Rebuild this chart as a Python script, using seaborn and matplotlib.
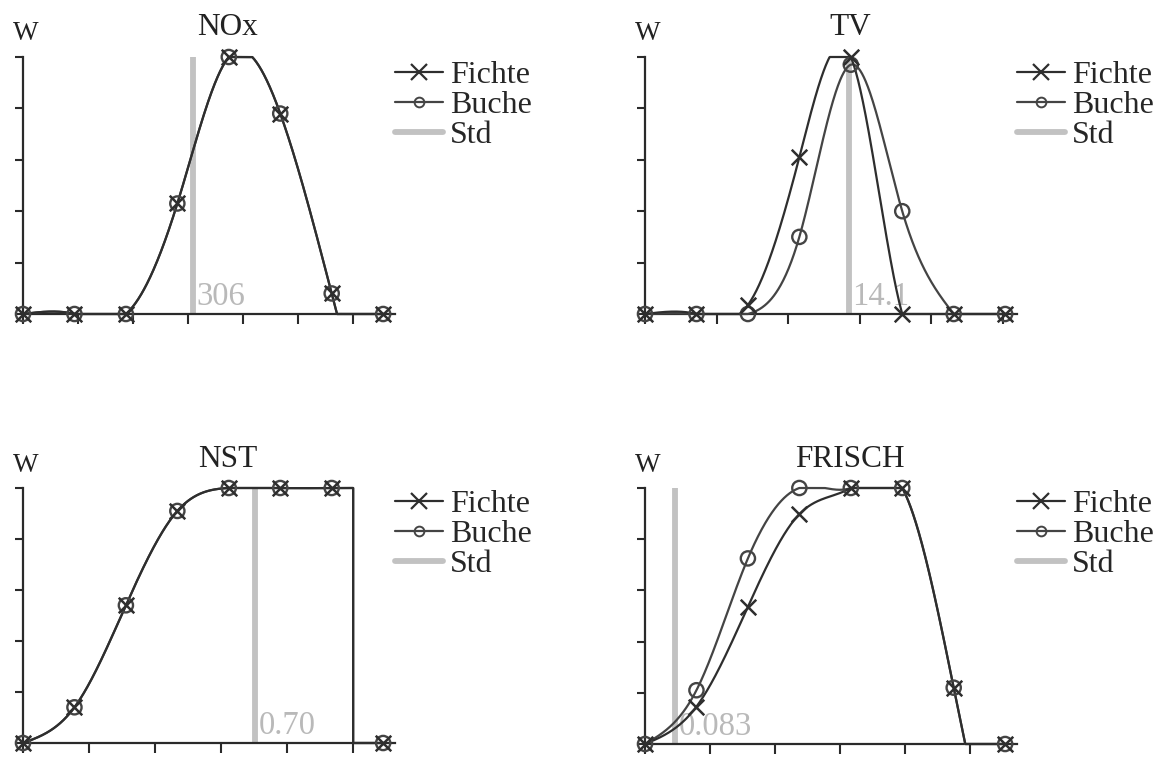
import numpy as np
import pandas as pd
import matplotlib
matplotlib.use("Agg")
import matplotlib.pyplot as plt
from matplotlib.lines import Line2D
import seaborn as sns

# ---- data ---------------------------------------------------------------
classes = [0, 1, 2, 3, 4, 5, 6, 7]          # class positions along each axis

titles = ["NOx", "TV", "NST", "FRISCH"]

fichte_nox = [0.0, 0.0, 0.0, 0.43, 1.0, 0.78, 0.08, 0.0]
buche_nox = [0.0, 0.0, 0.0, 0.43, 1.0, 0.78, 0.08, 0.0]

fichte_tv = [0.0, 0.0, 0.035, 0.61, 1.0, 0.0, 0.0, 0.0]
buche_tv = [0.0, 0.0, 0.0, 0.30, 0.97, 0.40, 0.0, 0.0]

fichte_nst = [0.0, 0.14, 0.54, 0.91, 1.0, 1.0, 1.0, 0.0]
buche_nst = [0.0, 0.14, 0.54, 0.91, 1.0, 1.0, 1.0, 0.0]

fichte_frisch = [0.0, 0.146, 0.536, 0.898, 1.0, 1.0, 0.22, 0.0]
buche_frisch = [0.0, 0.21, 0.725, 1.0, 1.0, 1.0, 0.22, 0.0]

std_pos = [3.30, 3.96, 4.51, 0.58]          # standard value position (class units)
std_text = ["306", "14.1", "0.70", "0.083"]

axis_end = [6.417, 6.95, 6.417, 6.311]      # end of the value range
xtick_step = [1.069, 1.39, 1.283, 1.262]
xtick_count = [6, 5, 5, 5]
yticks = [0.0, 0.2, 0.4, 0.6, 0.8, 1.0]

# ---- style --------------------------------------------------------------
sns.set_theme(style="white")
plt.rcParams["font.family"] = ["Liberation Serif", "DejaVu Serif"]

C_FICHTE = "#2e2e2e"
C_BUCHE = "#444444"
C_STD = "#c2c2c2"
C_AXIS = "#2a2a2a"

W, H = 1159, 757
fig = plt.figure(figsize=(W / 100, H / 100), dpi=100)

# panel geometry in pixels: (axis left, y of value 0, y of value 1)
panels = [(23, 314, 57), (645, 314, 57), (23, 743, 488), (645, 744, 488)]
px_per_class = 51.45
ax_width_px = 372


def natural_spline(xs, ys, xq):
    xs = np.asarray(xs, float)
    ys = np.asarray(ys, float)
    n = len(xs)
    h = np.diff(xs)
    A = np.zeros((n, n))
    b = np.zeros(n)
    A[0, 0] = A[-1, -1] = 1.0
    for i in range(1, n - 1):
        A[i, i - 1] = h[i - 1]
        A[i, i] = 2 * (h[i - 1] + h[i])
        A[i, i + 1] = h[i]
        b[i] = 6 * ((ys[i + 1] - ys[i]) / h[i] - (ys[i] - ys[i - 1]) / h[i - 1])
    M = np.linalg.solve(A, b)
    k = np.clip(np.searchsorted(xs, xq) - 1, 0, n - 2)
    x0, x1 = xs[k], xs[k + 1]
    hk = x1 - x0
    a = (x1 - xq) / hk
    c = (xq - x0) / hk
    return (a * ys[k] + c * ys[k + 1]
            + ((a ** 3 - a) * M[k] + (c ** 3 - c) * M[k + 1]) * hk ** 2 / 6)


def curve_frame(values, x_end):
    """Smooth membership curve on [0, x_end], dropping to 0 at the range end."""
    xs = np.array(classes, float)
    ys = np.array(values, float)
    inside = xs <= x_end + 1e-9
    xk, yk = xs[inside], ys[inside]
    xq = np.linspace(0, x_end, 800)
    yq = natural_spline(xk, yk, xq)
    tail = xq > xk[-1]
    yq[tail] = np.minimum(yq[tail], yk[-1])
    yq = np.clip(yq, 0, 1)
    xq = np.concatenate([xq, [x_end, xs[-1]]])
    yq = np.concatenate([yq, [0.0, ys[-1]]])
    return pd.DataFrame({"x": xq, "y": yq})


series = [(fichte_nox, buche_nox), (fichte_tv, buche_tv),
          (fichte_nst, buche_nst), (fichte_frisch, buche_frisch)]

for i, (left, y0, y1) in enumerate(panels):
    ax = fig.add_axes([left / W, (H - y0) / H, ax_width_px / W, (y0 - y1) / H])
    xmax = ax_width_px / px_per_class
    ax.set_xlim(0, xmax)
    ax.set_ylim(0, 1)
    fichte, buche = series[i]

    # standard value
    ax.plot([std_pos[i], std_pos[i]], [0, 1], color=C_STD, lw=4.2,
            solid_capstyle="butt", zorder=2, clip_on=False)
    ax.text(std_pos[i] + 0.07, 0.035, std_text[i], color="#b9b9b9",
            fontsize=23.5, ha="left", va="baseline", zorder=3)

    for vals, col in ((buche, C_BUCHE), (fichte, C_FICHTE)):
        df = curve_frame(vals, axis_end[i])
        sns.lineplot(data=df, x="x", y="y", ax=ax, color=col, lw=1.6,
                     sort=False, estimator=None, zorder=4, clip_on=False)

    pts_b = pd.DataFrame({"x": classes, "y": buche})
    pts_f = pd.DataFrame({"x": classes, "y": fichte})
    ax.scatter(pts_b["x"], pts_b["y"], s=105, marker="o", facecolors="none",
               edgecolors=C_BUCHE, linewidths=1.7, zorder=5, clip_on=False)
    sns.scatterplot(data=pts_f, x="x", y="y", ax=ax, marker="x", s=125,
                    color=C_FICHTE, linewidth=1.8, zorder=6, clip_on=False)

    ax.set_xlabel("")
    ax.set_ylabel("")
    ax.set_xticks([k * xtick_step[i] for k in range(xtick_count[i] + 1)])
    ax.set_yticks(yticks)
    ax.set_xticklabels([])
    ax.set_yticklabels([])
    ax.tick_params(axis="x", direction="out", length=7.5, width=1.5,
                   color=C_AXIS, bottom=True)
    ax.tick_params(axis="y", direction="out", length=6, width=1.5,
                   color=C_AXIS, left=True)
    for s in ("top", "right"):
        ax.spines[s].set_visible(False)
    for s in ("left", "bottom"):
        ax.spines[s].set_color(C_AXIS)
        ax.spines[s].set_linewidth(1.6)
    ax.patch.set_alpha(0)

    # titles and the W axis label
    base = 35 if i < 2 else 467
    fig.text((left + 205) / W, 1 - base / H, titles[i], fontsize=22.5,
             ha="center", va="baseline", color="#222222")
    fig.text((left - 10) / W, 1 - (base + 5) / H, "W", fontsize=19.5,
             ha="left", va="baseline", color="#222222")

    handles = [
        Line2D([], [], color=C_FICHTE, lw=1.6, marker="x", markersize=11,
               mew=1.6),
        Line2D([], [], color=C_BUCHE, lw=1.6, marker="o", markersize=7,
               mfc="none", mew=1.4),
        Line2D([], [], color=C_STD, lw=4.2),
    ]
    leg_x = left + 372
    leg_y = 61 if i < 2 else 490
    fig.legend(handles, ["Fichte", "Buche", "Std"], loc="upper left",
               bbox_to_anchor=(leg_x / W, 1 - leg_y / H), frameon=False,
               fontsize=23, borderpad=0, handlelength=1.5, handletextpad=0.22,
               labelspacing=0.02, borderaxespad=0)

fig.savefig("out.png", dpi=100, facecolor="white")
